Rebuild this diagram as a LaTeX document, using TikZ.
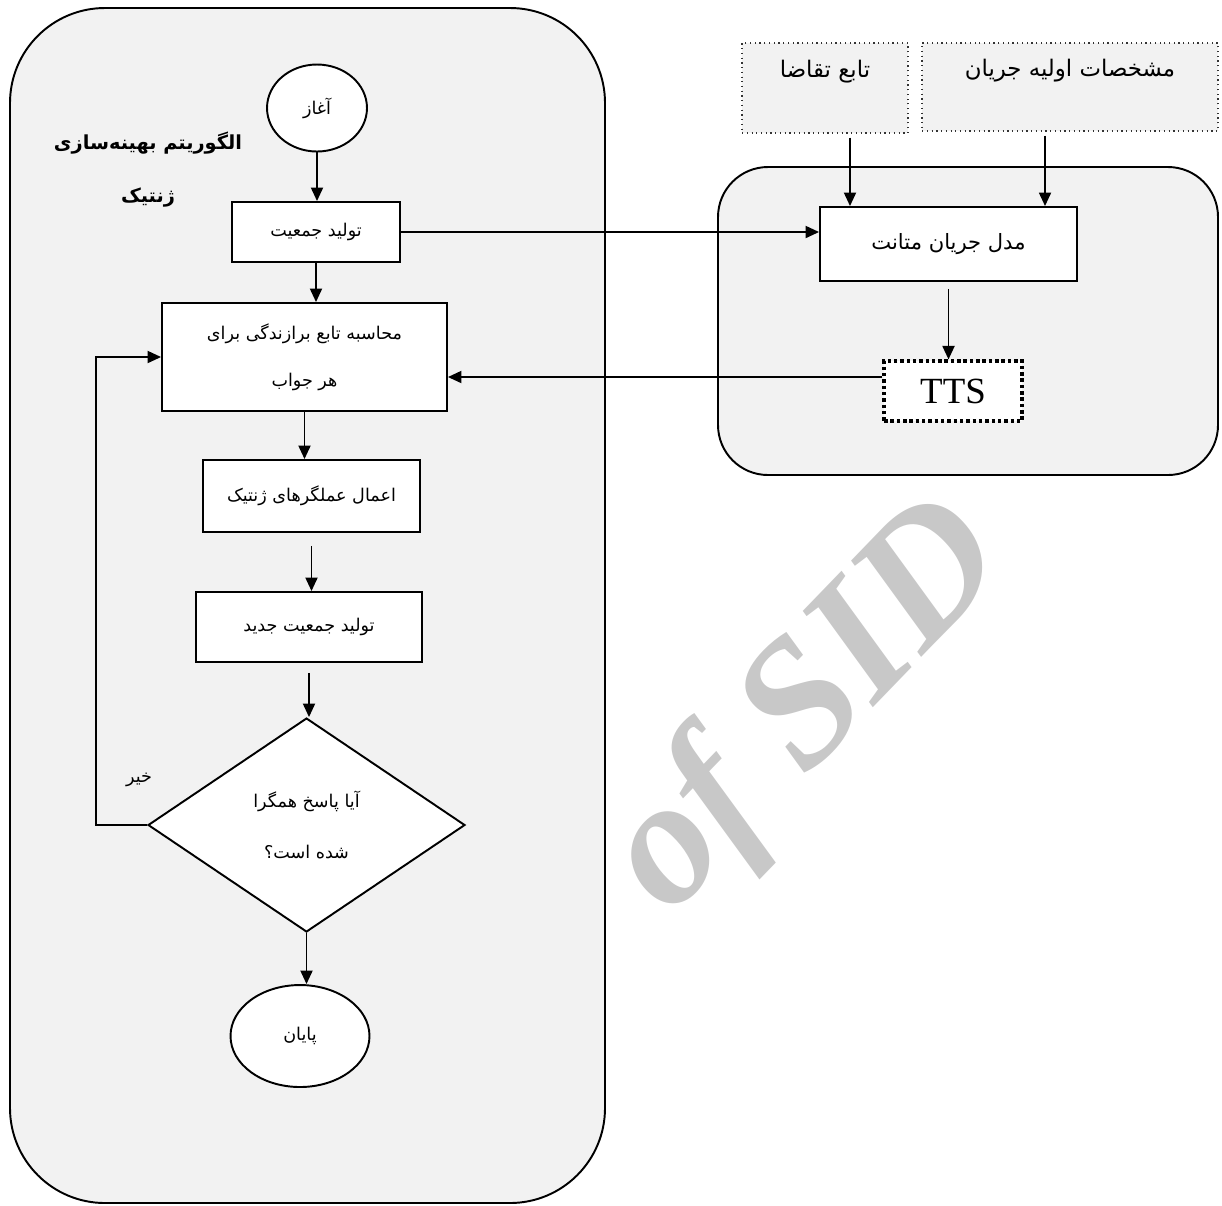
\documentclass[tikz,border=0pt]{standalone}
\usepackage{fontspec}
\setmainfont{Liberation Serif}
\newfontfamily\persfont[Script=Arabic]{DejaVu Sans}
\TeXXeTstate=1
\newcommand{\fatxt}[1]{{\persfont\beginR #1\endR}}
\usetikzlibrary{arrows.meta}
\usetikzlibrary{calc}
\usetikzlibrary{shapes.geometric}
\definecolor{panel}{HTML}{F2F2F2}
\definecolor{wmark}{HTML}{C8C8C8}

\begin{document}
\begin{tikzpicture}[>={Triangle[length=0.27cm,width=0.24cm]}, x=0.02cm, y=0.02cm,
    conn/.style={->, line width=1.1pt},
    flowbox/.style={draw, line width=1.1pt, fill=white, inner sep=0pt, align=center,
                    font=\fontsize{10}{12}\selectfont},
    termnode/.style={flowbox, ellipse},
    inputbox/.style={draw=black!80, dotted, line width=0.7pt, fill=panel, inner sep=0pt,
                     font=\fontsize{13}{15}\selectfont},
    ttsbox/.style={draw, line width=1.8pt, dash pattern=on 2pt off 1.6pt, fill=white,
                   inner sep=0pt, font=\fontsize{21}{24}\selectfont}]
  \useasboundingbox (0,0) rectangle (1222,-1205);

  % panels
  \draw[line width=1.1pt, fill=panel, rounded corners=1.9cm] (10,-8) rectangle (605,-1203);
  \draw[line width=1.1pt, fill=panel, rounded corners=1cm] (718,-167) rectangle (1218,-475);

  % genetic algorithm
  \node[font=\fontsize{11}{13}\selectfont\bfseries] (ttl1) at (148,-143) {\fatxt{الگوریتم بهینه‌سازی}};
  \node[font=\fontsize{11}{13}\selectfont\bfseries] (ttl2) at (148,-198) {\fatxt{ژنتیک}};

  \node[termnode, minimum width=2cm, minimum height=1.74cm] (start) at (317,-108) {\fatxt{آغاز}};
  \node[flowbox, minimum width=3.36cm, minimum height=1.2cm] (pop) at (316,-232) {\fatxt{تولید جمعیت}};
  \node[flowbox, minimum width=5.7cm, minimum height=2.16cm] (fit) at (304.5,-357)
        {\fatxt{محاسبه تابع برازندگی برای}\\[15pt]\fatxt{هر جواب}};
  \node[flowbox, minimum width=4.34cm, minimum height=1.44cm] (oper) at (311.5,-496) {\fatxt{اعمال عملگرهای ژنتیک}};
  \node[flowbox, minimum width=4.52cm, minimum height=1.4cm] (newpop) at (309,-627) {\fatxt{تولید جمعیت جدید}};
  \node[flowbox, diamond, minimum width=6.34cm, minimum height=4.28cm] (conv) at (306.5,-825)
        {\fatxt{آیا پاسخ همگرا}\\[17pt]\fatxt{شده است؟}};
  \node[termnode, minimum width=2.78cm, minimum height=2.04cm] (stop) at (300,-1036) {\fatxt{پایان}};
  \node[font=\fontsize{10}{12}\selectfont] (no) at (139,-780) {\fatxt{خیر}};

  \draw[conn] (start.south) -- (start.south |- pop.north);
  \draw[conn] (pop.south) -- (pop.south |- fit.north);
  \draw[conn] (fit.south) -- (fit.south |- oper.north);
  \draw[conn, shorten <=0.26cm] (oper.south) -- (oper.south |- newpop.north);
  \draw[conn, shorten <=0.2cm] (newpop.south) -- (newpop.south |- conv.north);
  \draw[conn] (conv.south) -- (conv.south |- stop.north);
  \draw[conn] (conv.west) -- ++(-51,0) |- (fit.west);

  % flow model
  \node[inputbox, minimum width=3.32cm, minimum height=1.8cm, text depth=0.75cm] (demand) at (825,-88) {\fatxt{تابع تقاضا}};
  \node[inputbox, minimum width=5.92cm, minimum height=1.76cm, text depth=0.75cm] (init) at (1070,-87) {\fatxt{مشخصات اولیه جریان}};
  \node[flowbox, minimum width=5.14cm, minimum height=1.48cm, font=\fontsize{12}{14}\selectfont] (model) at (948.5,-244) {\fatxt{مدل جریان متانت}};
  \node[ttsbox, minimum width=2.76cm, minimum height=1.2cm] (tts) at (953,-391) {TTS};

  \draw[conn, shorten <=0.08cm] ([xshift=0.5cm]demand.south) -- ([xshift=0.5cm]demand.south |- model.north);
  \draw[conn, shorten <=0.08cm] ([xshift=-0.5cm]init.south) -- ([xshift=-0.5cm]init.south |- model.north);
  \draw[conn, shorten <=0.14cm] (model.south) -- (model.south |- tts.north);
  \draw[conn] (pop.east) -- (pop.east -| model.west);
  \draw[conn] ([yshift=0.28cm]tts.west) -- ([yshift=0.28cm]tts.west -| fit.east);

  % watermark
  \node[rotate=46, text=wmark, font=\fontsize{102}{102}\selectfont\bfseries\itshape] (wm) at (810,-710) {of SID};
\end{tikzpicture}
\end{document}
